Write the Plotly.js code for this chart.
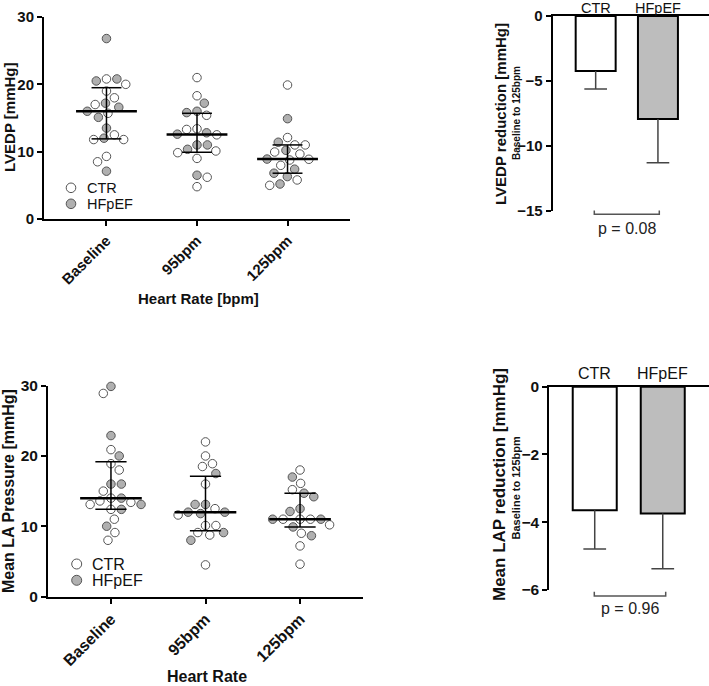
<!DOCTYPE html>
<html><head><meta charset="utf-8">
<script src="https://cdn.plot.ly/plotly-3.0.1.min.js"></script>
<style>html,body{margin:0;padding:0;background:#fff}#chart{width:709px;height:686px}</style>
</head><body><div id="chart"></div>
<script>
// ---------------- DATA ----------------
const categories = ['Baseline', '95bpm', '125bpm'];
const groupNames = ['CTR', 'HFpEF'];

// LVEDP [mmHg] per heart rate step
const lvedpCTR_Baseline   = [20.0, 20.8, 19.0, 18.0, 17.0, 15.7, 12.5, 11.8, 11.8, 9.3, 8.5];
const lvedpHFpEF_Baseline = [26.8, 20.5, 20.8, 17.2, 16.6, 16.0, 15.1, 13.5, 12.0, 7.1];
const lvedpCTR_95         = [21.0, 18.3, 15.4, 13.4, 13.3, 12.5, 10.1, 9.85, 9.0, 6.2, 4.8];
const lvedpHFpEF_95       = [17.2, 15.8, 16.0, 12.6, 12.8, 11.0, 11.0, 10.35, 6.5];
const lvedpCTR_125        = [19.9, 12.1, 11.0, 11.0, 9.95, 9.65, 8.76, 8.87, 7.97, 5.8, 5.0];
const lvedpHFpEF_125      = [14.9, 11.4, 10.2, 8.9, 7.4, 6.8, 6.3, 5.2];

// Mean LA pressure [mmHg] per heart rate step
const lapCTR_Baseline   = [28.9, 20.9, 18.9, 18.0, 15.0, 14.0, 13.4, 13.1, 13.6, 12.4, 11.0, 9.1, 8.0];
const lapHFpEF_Baseline = [29.9, 22.9, 20.0, 16.0, 16.0, 14.0, 13.1, 12.4, 10.0];
const lapCTR_95         = [22.0, 20.0, 18.9, 18.5, 16.0, 12.5, 11.6, 10.1, 10.1, 8.75, 9.1, 4.5];
const lapHFpEF_95       = [17.5, 13.1, 13.1, 12.0, 11.8, 12.0, 9.1, 8.0];
const lapCTR_125        = [18.0, 16.1, 15.2, 11.0, 11.0, 11.0, 10.2, 9.0, 7.2, 4.6];
const lapHFpEF_125      = [17.0, 14.7, 14.2, 12.1, 12.5, 11.0, 11.0, 9.9, 8.65];

// Reduction baseline -> 125bpm (mean, error)
const lvedpReduction    = [-4.24, -7.94];
const lvedpReductionErr = [1.38, 3.36];
const lapReduction      = [-3.65, -3.74];
const lapReductionErr   = [1.14, 1.63];
const pLvedp = 'p = 0.08';
const pLap   = 'p = 0.96';

// ---------------- LAYOUT GEOMETRY ----------------
const W = 709, H = 686;
const fx = x => x / W, fy = y => 1 - y / H;
const FONT = 'Liberation Sans, Arial, sans-serif';
const geo = {
  tl: {x0: 44, x1: 350, y0: 17, y1: 219, xr: [-0.69, 2.69], yr: [0, 30]},
  bl: {x0: 48, x1: 363, y0: 385.7, y1: 596.5, xr: [-0.666, 2.666], yr: [0, 30]},
  tr: {x0: 552.7, x1: 709, y0: 16, y1: 210.7, xr: [-0.69, 1.82], yr: [-15, 0]},
  br: {x0: 549.3, x1: 709, y0: 386.7, y1: 590, xr: [-0.668, 1.68], yr: [-6, 0]}
};
const pxPerX = g => (g.x1 - g.x0) / (g.xr[1] - g.xr[0]);
const pxPerY = g => (g.y1 - g.y0) / (g.yr[1] - g.yr[0]);

// beeswarm: offsets in px, no overlap for diameter D
function swarm(vals, sy, D) {
  const idx = vals.map((v, i) => i).sort((a, b) => vals[b] - vals[a]);
  const placed = [], off = new Array(vals.length);
  let flip = 1;
  idx.forEach(i => {
    const y = vals[i] * sy;
    const ints = [];
    placed.forEach(p => {
      const dy = Math.abs(p.y - y);
      if (dy < D) { const w = Math.sqrt(D * D - dy * dy); ints.push([p.x - w, p.x + w]); }
    });
    const cands = [0];
    ints.forEach(it => cands.push(it[0], it[1]));
    const ok = c => ints.every(it => c <= it[0] + 1e-6 || c >= it[1] - 1e-6);
    let best = null;
    cands.forEach(c => {
      if (!ok(c)) return;
      if (best === null || Math.abs(c) < Math.abs(best) - 1e-6 ||
          (Math.abs(Math.abs(c) - Math.abs(best)) < 1e-6 && c * flip > 0)) best = c;
    });
    flip = -flip;
    placed.push({x: best, y}); off[i] = best;
  });
  return off;
}
function quant(arr, p) {
  const s = [...arr].sort((a, b) => a - b), n = s.length;
  let pos = (n + 1) * p; pos = Math.max(1, Math.min(n, pos));
  const lo = Math.floor(pos), f = pos - lo;
  return lo >= n ? s[n - 1] : s[lo - 1] + f * (s[lo] - s[lo - 1]);
}

const traces = [];
function scatterPanel(ctrSets, hfSets, g, xa, ya, medHalf, capHalf) {
  const sx = pxPerX(g), sy = pxPerY(g);
  const cx = [], cy = [], hx = [], hy = [];
  const mx = [], my = [], ex = [], ey = [];
  categories.forEach((c, k) => {
    const all = ctrSets[k].concat(hfSets[k]);
    const off = swarm(all, sy, 10.4);
    all.forEach((v, i) => {
      const xv = k + off[i] / sx;
      if (i < ctrSets[k].length) { cx.push(xv); cy.push(v); } else { hx.push(xv); hy.push(v); }
    });
    const med = quant(all, 0.5), q1 = quant(all, 0.25), q3 = quant(all, 0.75);
    mx.push(k - medHalf, k + medHalf, null); my.push(med, med, null);
    ex.push(k, k, null, k - capHalf, k + capHalf, null, k - capHalf, k + capHalf, null);
    ey.push(q1, q3, null, q3, q3, null, q1, q1, null);
  });
  traces.push({type: 'scatter', mode: 'markers', x: cx, y: cy, xaxis: xa, yaxis: ya, name: 'CTR', cliponaxis: false,
    marker: {size: 8.5, color: '#ffffff', line: {color: '#555555', width: 1}}, hoverinfo: 'y'});
  traces.push({type: 'scatter', mode: 'markers', x: hx, y: hy, xaxis: xa, yaxis: ya, name: 'HFpEF', cliponaxis: false,
    marker: {size: 8.5, color: '#b0b0b0', line: {color: '#555555', width: 1}}, hoverinfo: 'y'});
  traces.push({type: 'scatter', mode: 'lines', x: ex, y: ey, xaxis: xa, yaxis: ya, cliponaxis: false,
    line: {color: '#000', width: 1.5}, hoverinfo: 'skip'});
  traces.push({type: 'scatter', mode: 'lines', x: mx, y: my, xaxis: xa, yaxis: ya, cliponaxis: false,
    line: {color: '#000', width: 2.5}, hoverinfo: 'skip'});
}
function barPanel(vals, errs, g, xa, ya, width, capHalf) {
  traces.push({type: 'bar', x: [0, 1], y: vals, xaxis: xa, yaxis: ya, width: width,
    marker: {color: ['#ffffff', '#bdbdbd'], line: {color: '#000', width: 2}}, hoverinfo: 'y'});
  const ex = [], ey = [];
  vals.forEach((v, k) => {
    ex.push(k, k, null, k - capHalf, k + capHalf, null);
    ey.push(v, v - errs[k], null, v - errs[k], v - errs[k], null);
  });
  traces.push({type: 'scatter', mode: 'lines', x: ex, y: ey, xaxis: xa, yaxis: ya,
    line: {color: '#444', width: 1.5}, hoverinfo: 'skip'});
}

scatterPanel([lvedpCTR_Baseline, lvedpCTR_95, lvedpCTR_125],
             [lvedpHFpEF_Baseline, lvedpHFpEF_95, lvedpHFpEF_125], geo.tl, 'x', 'y', 0.336, 0.165);
scatterPanel([lapCTR_Baseline, lapCTR_95, lapCTR_125],
             [lapHFpEF_Baseline, lapHFpEF_95, lapHFpEF_125], geo.bl, 'x3', 'y3', 0.326, 0.165);
barPanel(lvedpReduction, lvedpReductionErr, geo.tr, 'x2', 'y2', 0.642, 0.182);
barPanel(lapReduction, lapReductionErr, geo.br, 'x4', 'y4', 0.647, 0.167);

function xAxis(g, extra) {
  return Object.assign({domain: [fx(g.x0), fx(g.x1)], range: g.xr, showline: true, linewidth: 2, linecolor: '#000',
    showgrid: false, zeroline: false, fixedrange: true}, extra);
}
function yAxis(g, extra) {
  return Object.assign({domain: [fy(g.y1), fy(g.y0)], range: g.yr, showline: true, linewidth: 2, linecolor: '#000',
    showgrid: false, zeroline: false, ticks: 'outside', ticklen: 5, tickwidth: 2, tickcolor: '#000', fixedrange: true}, extra);
}
const tickBold = s => ({family: FONT, size: s, color: '#111', weight: 'bold'});

const layout = {
  width: W, height: H, margin: {l: 0, r: 0, t: 0, b: 0}, paper_bgcolor: '#fff', plot_bgcolor: 'rgba(0,0,0,0)',
  showlegend: false, font: {family: FONT, color: '#111'},
  xaxis: xAxis(geo.tl, {anchor: 'y', tickvals: [0, 1, 2], ticktext: categories, tickangle: -45,
    ticks: 'outside', ticklen: 5, tickwidth: 2, tickcolor: '#000', tickfont: tickBold(15)}),
  yaxis: yAxis(geo.tl, {anchor: 'x', dtick: 10, tickfont: tickBold(15)}),
  xaxis3: xAxis(geo.bl, {anchor: 'y3', tickvals: [0, 1, 2], ticktext: categories, tickangle: -45,
    ticks: 'outside', ticklen: 5, tickwidth: 2, tickcolor: '#000', tickfont: tickBold(16)}),
  yaxis3: yAxis(geo.bl, {anchor: 'x3', dtick: 10, tickfont: tickBold(15.5)}),
  xaxis2: xAxis(geo.tr, {anchor: 'y2', side: 'top', tickvals: [0, 1], showticklabels: false, ticks: ''}),
  yaxis2: yAxis(geo.tr, {anchor: 'x2', dtick: 5, tickfont: tickBold(15)}),
  xaxis4: xAxis(geo.br, {anchor: 'y4', side: 'top', tickvals: [0, 1], showticklabels: false, ticks: ''}),
  yaxis4: yAxis(geo.br, {anchor: 'x4', dtick: 2, tickfont: tickBold(15.5)}),
  annotations: [], shapes: []
};
function ann(text, x, y, size, opts) {
  layout.annotations.push(Object.assign({text: text, xref: 'paper', yref: 'paper', x: fx(x), y: fy(y),
    xanchor: 'center', yanchor: 'middle', showarrow: false,
    font: {family: FONT, size: size, color: '#111', weight: 'bold'}}, opts || {}));
}
ann('LVEDP [mmHg]', 9, 118, 15, {textangle: -90});
ann('Heart Rate [bpm]', 198, 298, 15);
ann('Mean LA Pressure [mmHg]', 9, 491, 16, {textangle: -90});
ann('Heart Rate', 207, 676, 16);
ann('LVEDP reduction [mmHg]', 500, 114, 15, {textangle: -90});
ann('Baseline to 125bpm', 516.5, 113.5, 10, {textangle: -90});
ann('Mean LAP reduction [mmHg]', 499, 485, 17, {textangle: -90});
ann('Baseline to 125bpm', 515.5, 488, 11, {textangle: -90});
ann(pLvedp, 627, 228, 16, {font: {family: FONT, size: 16, color: '#222'}});
ann(pLap, 630, 608.5, 16, {font: {family: FONT, size: 16, color: '#222'}});

// group labels above the bar charts (category names)
groupNames.forEach((gname, k) => {
  layout.annotations.push({text: gname, xref: 'x2', yref: 'paper', x: k, y: fy(16.5), yanchor: 'bottom',
    xanchor: 'center', showarrow: false, borderpad: 0, font: {family: FONT, size: 14.5, color: '#111'}});
  layout.annotations.push({text: gname, xref: 'x4', yref: 'paper', x: k, y: fy(383), yanchor: 'bottom',
    xanchor: 'center', showarrow: false, borderpad: 0, font: {family: FONT, size: 16, color: '#111'}});
});

// legends
function legendItem(cx, cy, r, fill, label, tx, size) {
  layout.shapes.push({type: 'circle', xref: 'paper', yref: 'paper', xsizemode: 'pixel', ysizemode: 'pixel',
    xanchor: fx(cx), yanchor: fy(cy), x0: -r, x1: r, y0: -r, y1: r,
    fillcolor: fill, line: {color: '#555', width: 1}});
  ann(label, tx, cy, size, {xanchor: 'left', borderpad: 0, font: {family: FONT, size: size, color: '#111'}});
}
legendItem(71, 187.8, 4.8, '#ffffff', 'CTR', 86, 14.5);
legendItem(71, 203.8, 4.8, '#b0b0b0', 'HFpEF', 86, 14.5);
legendItem(76.7, 564, 5, '#ffffff', 'CTR', 91, 16);
legendItem(76.7, 580.3, 5, '#b0b0b0', 'HFpEF', 91, 16);

// p-value brackets
function bracket(x0, x1, y, yt) {
  layout.shapes.push({type: 'path', xref: 'paper', yref: 'paper',
    path: `M${fx(x0)},${fy(yt)} L${fx(x0)},${fy(y)} L${fx(x1)},${fy(y)} L${fx(x1)},${fy(yt)}`,
    line: {color: '#555', width: 1.5}});
}
bracket(594.3, 659.3, 214.3, 210.5);
bracket(594.3, 665.7, 596, 591.7);

Plotly.newPlot('chart', traces, layout, {displayModeBar: false, staticPlot: true});
</script></body></html>
